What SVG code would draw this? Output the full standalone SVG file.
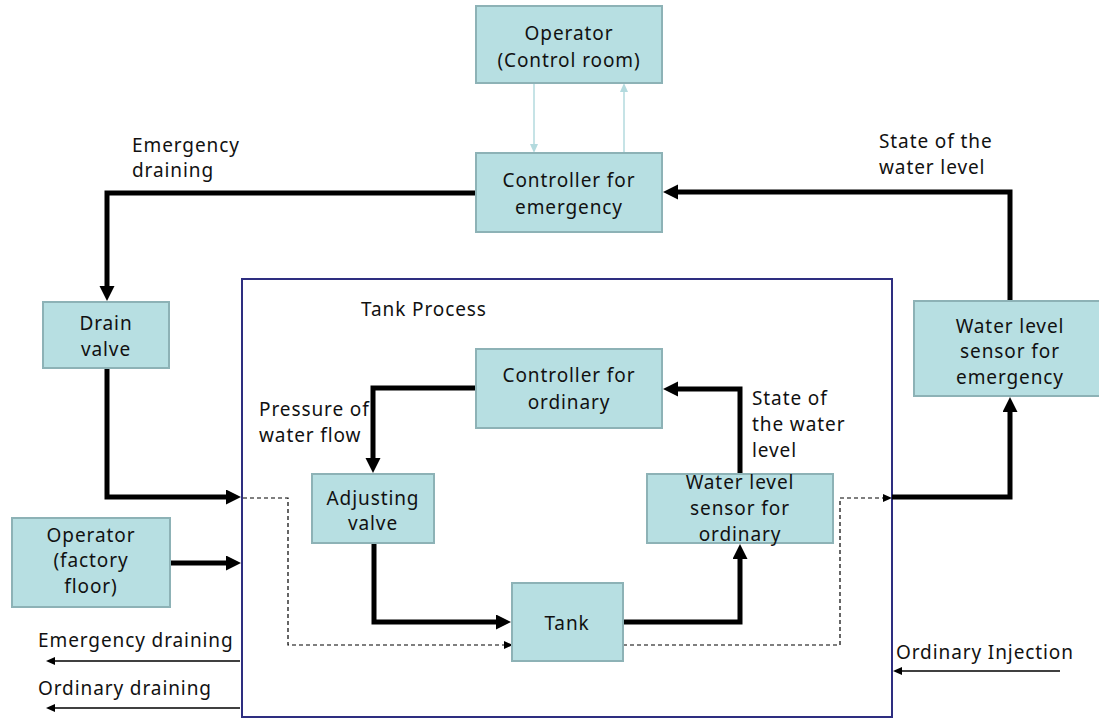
<svg xmlns="http://www.w3.org/2000/svg" width="1099" height="719" viewBox="0 0 1099 719">
<style>
.box{fill:#b7dfe2;stroke:#8db2b6;stroke-width:2}
.t{font-family:"Noto Sans","Open Sans","DejaVu Sans",sans-serif;font-size:19px;letter-spacing:0.9px;fill:#111}
.c{text-anchor:middle}
.thick{fill:none;stroke:#000;stroke-width:5;stroke-linejoin:miter}
.thin{fill:none;stroke:#000;stroke-width:1.3}
.dash{fill:none;stroke:#000;stroke-width:1.2;stroke-dasharray:4 3}
.light{fill:none;stroke:#b3dade;stroke-width:1.5}
</style>
<defs>
<marker id="ah" markerUnits="userSpaceOnUse" markerWidth="16" markerHeight="16" refX="1" refY="7.5" orient="auto"><path d="M0,0 L15,7.5 L0,15 z" fill="#000"/></marker>
<marker id="as" markerUnits="userSpaceOnUse" markerWidth="10" markerHeight="10" refX="0" refY="4" orient="auto"><path d="M0,0 L9,4 L0,8 z" fill="#000"/></marker>
<marker id="al" markerUnits="userSpaceOnUse" markerWidth="10" markerHeight="10" refX="0" refY="4" orient="auto"><path d="M0,0 L9,4 L0,8 z" fill="#b3dade"/></marker>
</defs>
<rect width="1099" height="719" fill="#fff"/>

<g id="tank-process">
<rect x="242" y="279" width="650" height="438" fill="none" stroke="#2e2e80" stroke-width="2"/>
<text class="t" x="361" y="316">Tank Process</text>
</g>

<g id="connectors">
<path class="thick" d="M476,193 H107 V287" marker-end="url(#ah)"/>
<path class="thick" d="M107,368 V497 H227" marker-end="url(#ah)"/>
<path class="thick" d="M170,563 H227" marker-end="url(#ah)"/>
<path class="thick" d="M476,388 H373 V459" marker-end="url(#ah)"/>
<path class="thick" d="M374,543 V622 H497" marker-end="url(#ah)"/>
<path class="thick" d="M623,622 H740 V558" marker-end="url(#ah)"/>
<path class="thick" d="M740,474 V389 H677" marker-end="url(#ah)"/>
<path class="thick" d="M892,497 H1010 V411" marker-end="url(#ah)"/>
<path class="thick" d="M1010,301 V192 H677" marker-end="url(#ah)"/>
<path class="light" d="M534,84 V144" marker-end="url(#al)"/>
<path class="light" d="M624,152 V92" marker-end="url(#al)"/>
<path class="dash" d="M243,498 H288 V645 H504" marker-end="url(#as)"/>
<path class="dash" d="M623,645 H840 V498 H883" marker-end="url(#as)"/>
<path class="thin" d="M240,661 H55" marker-end="url(#as)"/>
<path class="thin" d="M240,708 H55" marker-end="url(#as)"/>
<path class="thin" d="M1060,671 H902" marker-end="url(#as)"/>
</g>

<g id="labels">
<text class="t" x="132" y="152">Emergency</text>
<text class="t" x="132" y="177">draining</text>
<text class="t" x="879" y="148">State of the</text>
<text class="t" x="879" y="174">water level</text>
<text class="t" x="259" y="416">Pressure of</text>
<text class="t" x="259" y="442">water flow</text>
<text class="t" x="752" y="405">State of</text>
<text class="t" x="752" y="431">the water</text>
<text class="t" x="752" y="457">level</text>
<text class="t" x="38" y="647">Emergency draining</text>
<text class="t" x="38" y="695">Ordinary draining</text>
<text class="t" x="896" y="659">Ordinary Injection</text>
</g>

<g id="operator-control-room">
<rect class="box" x="476" y="6" width="186" height="77"/>
<text class="t c" x="569" y="40">Operator</text>
<text class="t c" x="569" y="67">(Control room)</text>
</g>
<g id="controller-emergency">
<rect class="box" x="476" y="153" width="186" height="79"/>
<text class="t c" x="569" y="187">Controller for</text>
<text class="t c" x="569" y="214">emergency</text>
</g>
<g id="drain-valve">
<rect class="box" x="43" y="302" width="126" height="66"/>
<text class="t c" x="106" y="330">Drain</text>
<text class="t c" x="106" y="356">valve</text>
</g>
<g id="sensor-emergency">
<rect class="box" x="914" y="301" width="186" height="95"/>
<text class="t c" x="1010" y="333">Water level</text>
<text class="t c" x="1010" y="358">sensor for</text>
<text class="t c" x="1010" y="384">emergency</text>
</g>
<g id="operator-factory">
<rect class="box" x="12" y="518" width="158" height="89"/>
<text class="t c" x="91" y="542">Operator</text>
<text class="t c" x="91" y="567">(factory</text>
<text class="t c" x="91" y="593">floor)</text>
</g>
<g id="controller-ordinary">
<rect class="box" x="476" y="349" width="186" height="79"/>
<text class="t c" x="569" y="382">Controller for</text>
<text class="t c" x="569" y="409">ordinary</text>
</g>
<g id="adjusting-valve">
<rect class="box" x="312" y="474" width="122" height="69"/>
<text class="t c" x="373" y="505">Adjusting</text>
<text class="t c" x="373" y="530">valve</text>
</g>
<g id="tank">
<rect class="box" x="512" y="583" width="111" height="78"/>
<text class="t c" x="567" y="630">Tank</text>
</g>
<g id="sensor-ordinary">
<rect class="box" x="647" y="474" width="186" height="69"/>
<text class="t c" x="740" y="489">Water level</text>
<text class="t c" x="740" y="515">sensor for</text>
<text class="t c" x="740" y="541">ordinary</text>
</g>
</svg>
